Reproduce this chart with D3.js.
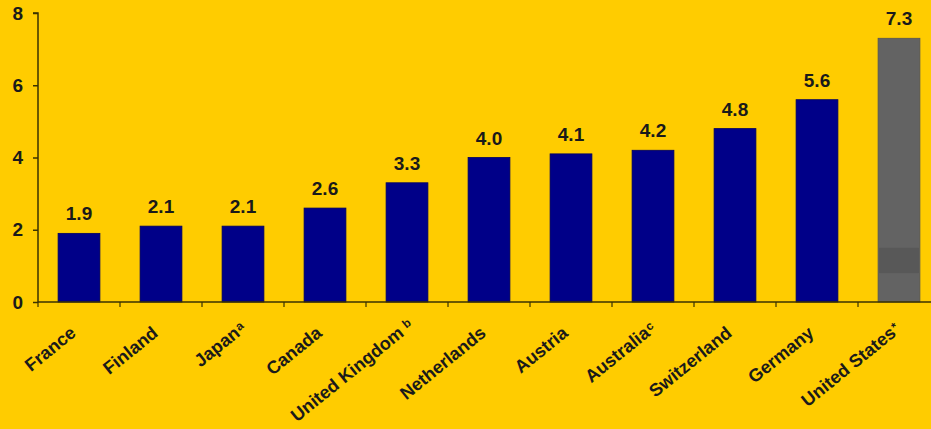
<!DOCTYPE html>
<html>
<head>
<meta charset="utf-8">
<script src="https://cdn.jsdelivr.net/npm/d3@7"></script>
<style>
  html, body { margin: 0; padding: 0; background: #FFCC00; }
  svg { display: block; }
  text { font-family: "Liberation Sans", Arial, Helvetica, sans-serif; font-weight: bold; fill: #1a1a1a; }
</style>
</head>
<body>
<svg id="chart" width="931" height="429"></svg>
<script>
// ---- data ----
const countries = ["France", "Finland", "Japan", "Canada", "United Kingdom", "Netherlands",
                   "Austria", "Australia", "Switzerland", "Germany", "United States"];
const notes = ["", "", "a", "", " b", "", "", "c", "", "", "*"];
const values = [1.9, 2.1, 2.1, 2.6, 3.3, 4.0, 4.1, 4.2, 4.8, 5.6, 7.3];
const yTicks = [0, 2, 4, 6, 8];
const highlighted = ["United States"];
const usShadeBand = [0.8, 1.5];

// ---- layout ----
(function () {
const W = 931, H = 429;
const mLeft = 38, mTop = 13, mBottom = 302;
const angle = -39;
const svg = d3.select("#chart");
svg.append("rect").attr("width", W).attr("height", H).attr("fill", "#FFCC00");

const x = d3.scaleBand().domain(countries)
  .range([mLeft, mLeft + 82 * countries.length])
  .paddingInner(0.49).paddingOuter(0.245);
const y = d3.scaleLinear().domain([0, 8]).range([mBottom, mTop]);

const data = countries.map((c, i) => ({ c, v: values[i], n: notes[i] }));

// bars
svg.append("g").selectAll("rect").data(data).join("rect")
  .attr("x", d => x(d.c))
  .attr("y", d => y(d.v))
  .attr("width", x.bandwidth())
  .attr("height", d => y(0) - y(d.v))
  .attr("fill", d => highlighted.includes(d.c) ? "#636363" : "#000088")
  .attr("stroke", d => highlighted.includes(d.c) ? "#555" : "#000060")
  .attr("stroke-width", 0.8);

// subtle darker band in US bar
svg.append("rect")
  .attr("x", x("United States") + 1)
  .attr("y", y(usShadeBand[1]))
  .attr("width", x.bandwidth() - 2)
  .attr("height", y(usShadeBand[0]) - y(usShadeBand[1]))
  .attr("fill", "#585858");

// value labels
svg.append("g").selectAll("text").data(data).join("text")
  .attr("x", d => x(d.c) + x.bandwidth() / 2)
  .attr("y", d => y(d.v) - 13)
  .attr("text-anchor", "middle")
  .style("font-size", "19px")
  .text(d => d.v.toFixed(1));

// y axis
const yAxis = d3.axisLeft(y).tickValues(yTicks).tickSize(5).tickPadding(10).tickFormat(d3.format("d"));
const gy = svg.append("g").attr("transform", `translate(${mLeft},0)`).call(yAxis);
gy.select(".domain").attr("stroke", "#3a3200").attr("stroke-width", 1.5).attr("d", `M-5,${mTop}H0V${mBottom}`);
gy.selectAll(".tick line").attr("stroke", "#3a3200").attr("stroke-width", 1.5);
gy.selectAll(".tick text").style("font-size", "19px").attr("fill", "#1a1a1a")
  .style("font-family", '"Liberation Sans", Arial, sans-serif').style("font-weight", "bold");

// x axis line + boundary ticks
const gx = svg.append("g");
gx.append("line").attr("x1", mLeft).attr("x2", W).attr("y1", mBottom).attr("y2", mBottom)
  .attr("stroke", "#3a3200").attr("stroke-width", 1.5);
const step = x.step();
const bounds = d3.range(countries.length + 1).map(i => x.range()[0] + i * step);
gx.selectAll("line.tk").data(bounds).join("line").attr("class", "tk")
  .attr("x1", d => d).attr("x2", d => d)
  .attr("y1", mBottom).attr("y2", mBottom + 5)
  .attr("stroke", "#3a3200").attr("stroke-width", 1.2);

// category labels (name anchored at end, note placed after it)
const lg = svg.append("g").selectAll("g").data(data).join("g")
  .attr("transform", d => `translate(${x(d.c) + x.bandwidth() / 2 - 2},${mBottom + 33}) rotate(${angle})`);
lg.append("text")
  .attr("text-anchor", "end")
  .style("font-size", "18px")
  .text(d => d.c);
lg.filter(d => d.n).append("text")
  .attr("text-anchor", "start")
  .attr("x", d => d.n.startsWith(" ") ? 5 : 1)
  .attr("y", -4)
  .style("font-size", "12px")
  .text(d => d.n.trim());
})();
</script>
</body>
</html>
